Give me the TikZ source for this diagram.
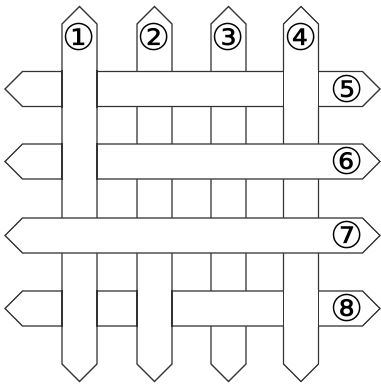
\documentclass[tikz,border=0pt]{standalone}
\usepackage{fontspec}
\usepackage{tikz}
\newfontfamily\numfont{DejaVu Sans}

\begin{document}
\begin{tikzpicture}[
      x=1pt, y=-1pt,
      strip/.style={draw=black!80, fill=white, line width=1.3pt, line join=miter},
      edge/.style={draw=black!80, line width=1.3pt},
      num/.style={font=\numfont\fontsize{37}{37}\selectfont, inner sep=0pt}
    ]
      \useasboundingbox (0,0) rectangle (381,384);
      % vertical strips
      \foreach \x in {79.5,154.5,228.5,301}
        \draw[strip] (\x-17.5,24) -- (\x,6.5) -- (\x+17.5,24) -- (\x+17.5,364)
                     -- (\x,381.5) -- (\x-17.5,364) -- cycle;
      % horizontal strips
      \foreach \y in {89,161.5,235.5,308.5}
        \draw[strip] (22.5,\y-17.5) -- (5,\y) -- (22.5,\y+17.5) -- (362.5,\y+17.5)
                     -- (380,\y) -- (362.5,\y-17.5) -- cycle;
      % crossings where the vertical strip lies on top
      \foreach \x/\y in {79.5/89, 301/89, 79.5/161.5, 79.5/308.5, 154.5/308.5, 301/308.5} {
        \fill[white] (\x-17.5,\y-18.7) rectangle (\x+17.5,\y+18.7);
        \draw[edge] (\x-17.5,\y-18.7) -- (\x-17.5,\y+18.7)
                    (\x+17.5,\y-18.7) -- (\x+17.5,\y+18.7);
      }
      % labels
      \node[num] (n1) at (79.5,37.5) {①};
      \node[num] (n2) at (154.5,37.5) {②};
      \node[num] (n3) at (228.5,37.5) {③};
      \node[num] (n4) at (301,37.5) {④};
      \node[num] (n5) at (347.5,89) {⑤};
      \node[num] (n6) at (347.5,161.5) {⑥};
      \node[num] (n7) at (347.5,235.5) {⑦};
      \node[num] (n8) at (347.5,308.5) {⑧};
    \end{tikzpicture}
\end{document}
